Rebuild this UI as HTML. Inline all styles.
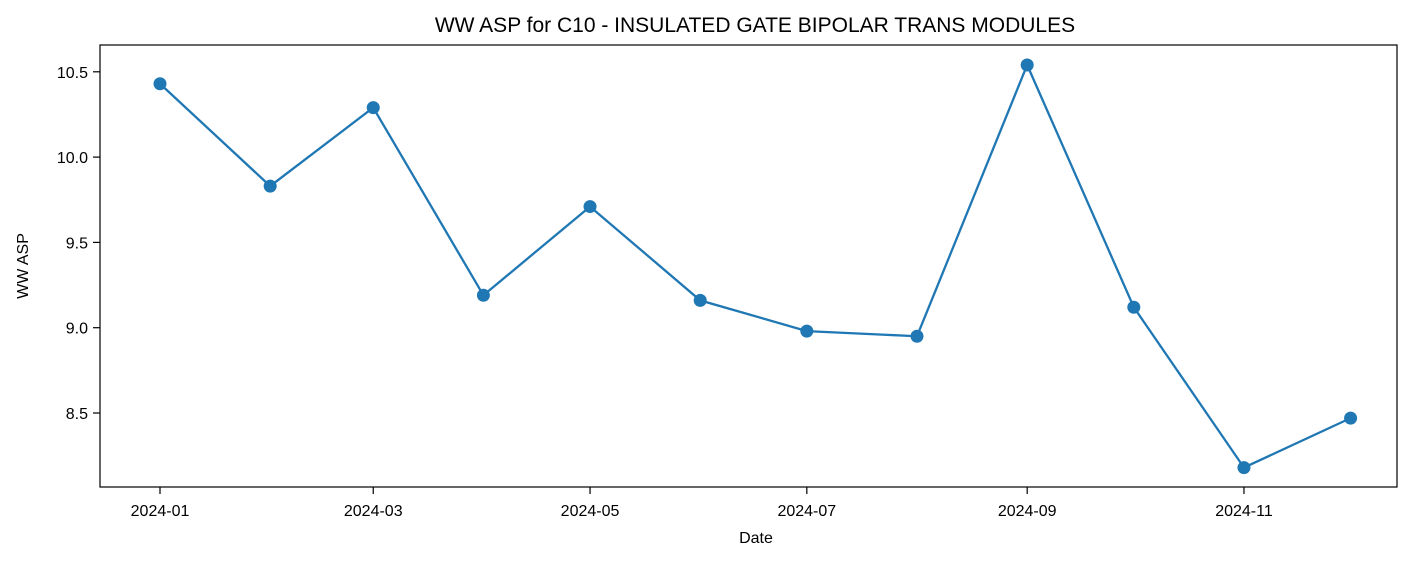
<!DOCTYPE html>
<html><head><meta charset="utf-8"><style>
body{margin:0;background:#fff;}
svg text{font-family:"Liberation Sans","DejaVu Sans",sans-serif;fill:#000;}
</style></head><body>
<svg id="chart" width="1425" height="561" xmlns="http://www.w3.org/2000/svg">
<text x="755" y="32" font-size="21" text-anchor="middle">WW ASP for C10 - INSULATED GATE BIPOLAR TRANS MODULES</text>
<text x="756" y="543" font-size="16" text-anchor="middle">Date</text>
<text x="28" y="266" font-size="16" text-anchor="middle" transform="rotate(-90 28 266)">WW ASP</text>
<g id="ticks"></g>
<g id="series"></g>
<rect x="100" y="45" width="1297" height="442" fill="none" stroke="#000" stroke-width="1.2"/>
</svg>
<script>
const dates = ["2024-01-01","2024-02-01","2024-03-01","2024-04-01","2024-05-01","2024-06-01","2024-07-01","2024-08-01","2024-09-01","2024-10-01","2024-11-01","2024-12-01"];
const values = [10.43, 9.83, 10.29, 9.19, 9.71, 9.16, 8.98, 8.95, 10.54, 9.12, 8.18, 8.47];
const xTickLabels = ["2024-01","2024-03","2024-05","2024-07","2024-09","2024-11"];
const yTicks = [8.5, 9.0, 9.5, 10.0, 10.5];

const NS="http://www.w3.org/2000/svg";
const t0=Date.UTC(2024,0,1);
function day(s){const p=s.split("-");return (Date.UTC(+p[0],+p[1]-1,+(p[2]||1))-t0)/86400000;}
function xs(s){return 160+day(s)*3.554;}
function ys(v){return 413-(v-8.5)*170.6;}
function mk(tag,attrs,parent){const e=document.createElementNS(NS,tag);for(const k in attrs)e.setAttribute(k,attrs[k]);parent.appendChild(e);return e;}
const tg=document.getElementById("ticks"), sg=document.getElementById("series");
yTicks.forEach(v=>{const y=ys(v);
 const l=mk("line",{x1:93,x2:100,y1:y,y2:y,stroke:"#000","stroke-width":1.2},tg);
 
 
 const t=mk("text",{x:88,y:y+6,"font-size":16,"text-anchor":"end"},tg);t.textContent=v.toFixed(1);
 
 
});
xTickLabels.forEach(s=>{const x=xs(s);
 const l=mk("line",{x1:x,x2:x,y1:487,y2:494,stroke:"#000","stroke-width":1.2},tg);
 
 
 const t=mk("text",{x:x,y:516,"font-size":16,"text-anchor":"middle"},tg);t.textContent=s;
 
 
});
const pts=dates.map((d,i)=>xs(d)+","+ys(values[i])).join(" ");
const pl=mk("polyline",{points:pts,fill:"none",stroke:"#1f77b4","stroke-width":2.3},sg);


dates.forEach((d,i)=>{const c=mk("circle",{cx:xs(d),cy:ys(values[i]),r:6.5,fill:"#1f77b4"},sg);
 
 
});
</script>
</body></html>
